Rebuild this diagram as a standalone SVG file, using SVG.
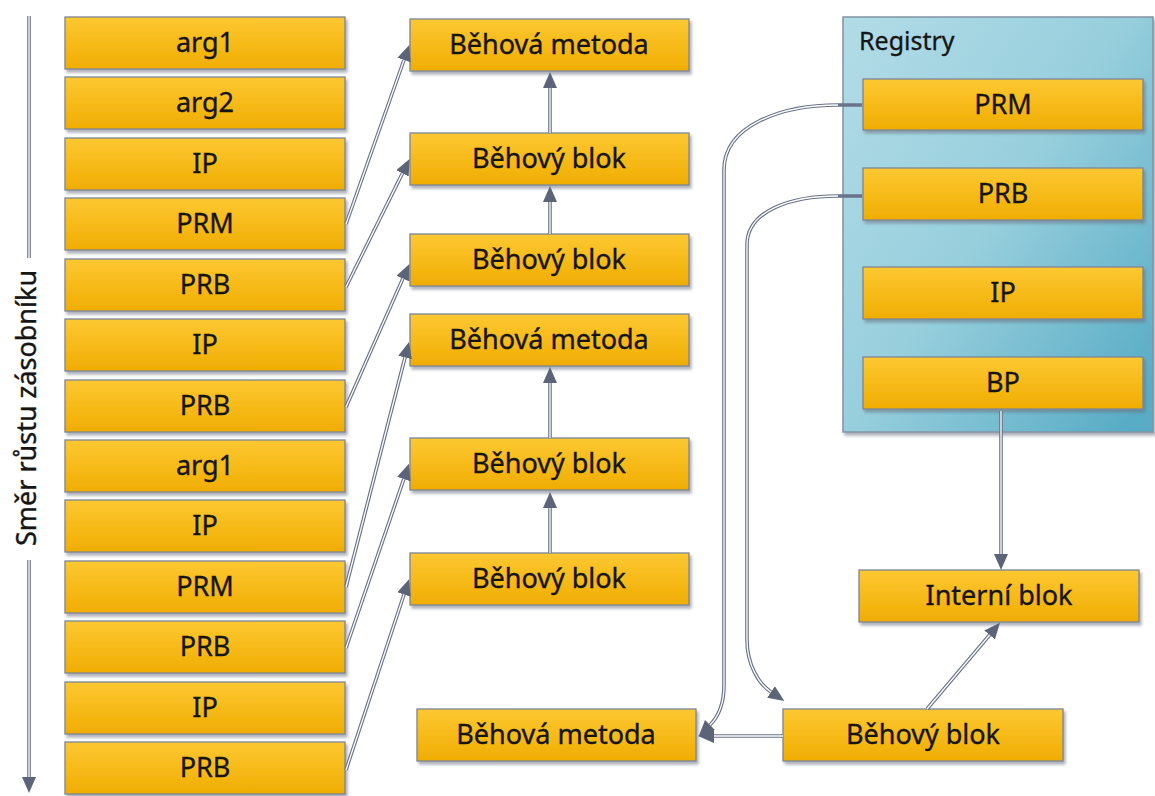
<svg xmlns="http://www.w3.org/2000/svg" width="1155" height="796" viewBox="0 0 1155 796">
  <defs>
    <linearGradient id="boxFill" x1="0" y1="0" x2="0" y2="1">
      <stop offset="0" stop-color="#fdc832"/>
      <stop offset="1" stop-color="#f0ad02"/>
    </linearGradient>
    <linearGradient id="regFill" x1="0" y1="0" x2="1" y2="0.9">
      <stop offset="0" stop-color="#b2dce7"/>
      <stop offset="0.5" stop-color="#98cfdd"/>
      <stop offset="1" stop-color="#58acc5"/>
    </linearGradient>
    <filter id="shadow" x="-10%" y="-20%" width="130%" height="150%">
      <feDropShadow dx="2" dy="3" stdDeviation="1.5" flood-color="#6a7080" flood-opacity="0.55"/>
    </filter>
    <marker id="arrow" markerUnits="userSpaceOnUse" markerWidth="18" markerHeight="15" refX="0" refY="7" orient="auto">
      <path d="M0,0 L16,7 L0,14 Z" fill="#5b6479"/>
    </marker>
  </defs>
  <style>
    .box { fill: url(#boxFill); stroke: #7d8696; stroke-width: 1.3; filter: url(#shadow); }
    .lbl { font-family: "Noto Sans", "Open Sans", sans-serif; font-size: 27px; fill: #151515; stroke: #151515; stroke-width: 0.35; text-anchor: middle; }
    .edge { fill: none; stroke: #68728a; stroke-width: 3.6; }
    .core { fill: none; stroke: #ffffff; stroke-width: 1.3; }
  </style>

  <rect width="1155" height="796" fill="#ffffff"/>

  <!-- Registers container -->
  <g id="registry">
    <rect x="843" y="17" width="310" height="415" fill="url(#regFill)" stroke="#8393a3" stroke-width="1.5" filter="url(#shadow)"/>
    <text x="859" y="50" font-family="Noto Sans, sans-serif" font-size="25" fill="#151515" stroke="#151515" stroke-width="0.3">Registry</text>
  </g>

  <!-- Stack growth direction -->
  <g id="direction">
    <path class="edge" d="M29,16 L29,258 M29,560 L29,777" marker-end="url(#arrow)"/>
    <path class="core" d="M29,16 L29,258 M29,560 L29,777"/>
    <text class="lbl" transform="translate(36,408) rotate(-90)" x="0" y="0" font-size="28">Směr růstu zásobníku</text>
  </g>

  <!-- Stack frames -->
  <g id="stack-arg1-a"><rect class="box" x="65" y="17" width="280" height="52"/><text class="lbl" x="205" y="52">arg1</text></g>
  <g id="stack-arg2"><rect class="box" x="65" y="77" width="280" height="52"/><text class="lbl" x="205" y="112">arg2</text></g>
  <g id="stack-ip-a"><rect class="box" x="65" y="138" width="280" height="52"/><text class="lbl" x="205" y="173">IP</text></g>
  <g id="stack-prm-a"><rect class="box" x="65" y="198" width="280" height="52"/><text class="lbl" x="205" y="233">PRM</text></g>
  <g id="stack-prb-a"><rect class="box" x="65" y="259" width="280" height="52"/><text class="lbl" x="205" y="294">PRB</text></g>
  <g id="stack-ip-b"><rect class="box" x="65" y="319" width="280" height="52"/><text class="lbl" x="205" y="354">IP</text></g>
  <g id="stack-prb-b"><rect class="box" x="65" y="380" width="280" height="52"/><text class="lbl" x="205" y="415">PRB</text></g>
  <g id="stack-arg1-b"><rect class="box" x="65" y="440" width="280" height="52"/><text class="lbl" x="205" y="475">arg1</text></g>
  <g id="stack-ip-c"><rect class="box" x="65" y="500" width="280" height="52"/><text class="lbl" x="205" y="535">IP</text></g>
  <g id="stack-prm-b"><rect class="box" x="65" y="561" width="280" height="52"/><text class="lbl" x="205" y="596">PRM</text></g>
  <g id="stack-prb-c"><rect class="box" x="65" y="621" width="280" height="52"/><text class="lbl" x="205" y="656">PRB</text></g>
  <g id="stack-ip-d"><rect class="box" x="65" y="682" width="280" height="52"/><text class="lbl" x="205" y="717">IP</text></g>
  <g id="stack-prb-d"><rect class="box" x="65" y="742" width="280" height="52"/><text class="lbl" x="205" y="777">PRB</text></g>

  <!-- Runtime chain -->
  <g id="method-1"><rect class="box" x="410" y="19" width="279" height="52"/><text class="lbl" x="549" y="54">Běhová metoda</text></g>
  <g id="block-1"><rect class="box" x="410" y="133" width="279" height="52"/><text class="lbl" x="549" y="168">Běhový blok</text></g>
  <g id="block-2"><rect class="box" x="410" y="234" width="279" height="52"/><text class="lbl" x="549" y="269">Běhový blok</text></g>
  <g id="method-2"><rect class="box" x="410" y="314" width="279" height="52"/><text class="lbl" x="549" y="349">Běhová metoda</text></g>
  <g id="block-3"><rect class="box" x="410" y="438" width="279" height="52"/><text class="lbl" x="549" y="473">Běhový blok</text></g>
  <g id="block-4"><rect class="box" x="410" y="553" width="279" height="52"/><text class="lbl" x="549" y="588">Běhový blok</text></g>
  <g id="method-3"><rect class="box" x="417" y="709" width="279" height="52"/><text class="lbl" x="556" y="744">Běhová metoda</text></g>
  <g id="block-5"><rect class="box" x="783" y="709" width="280" height="52"/><text class="lbl" x="923" y="744">Běhový blok</text></g>
  <g id="internal"><rect class="box" x="859" y="570" width="280" height="52"/><text class="lbl" x="999" y="605">Interní blok</text></g>

  <!-- Registers -->
  <g id="reg-prm"><rect class="box" x="863" y="79" width="280" height="51"/><text class="lbl" x="1003" y="114">PRM</text></g>
  <g id="reg-prb"><rect class="box" x="863" y="168" width="280" height="52"/><text class="lbl" x="1003" y="203">PRB</text></g>
  <g id="reg-ip"><rect class="box" x="863" y="267" width="280" height="52"/><text class="lbl" x="1003" y="302">IP</text></g>
  <g id="reg-bp"><rect class="box" x="863" y="357" width="280" height="52"/><text class="lbl" x="1003" y="392">BP</text></g>

  <!-- Connectors: dark outline with a light core, arrowheads on the outline -->
  <g id="connectors">
    <g id="c-outline">
      <path class="edge" d="M346,224 L404,60" marker-end="url(#arrow)"/>
      <path class="edge" d="M346,287 L402.4,173.4" marker-end="url(#arrow)"/>
      <path class="edge" d="M346,407 L402.9,278.6" marker-end="url(#arrow)"/>
      <path class="edge" d="M346,587 L405,357.5" marker-end="url(#arrow)"/>
      <path class="edge" d="M346,648 L403.8,479" marker-end="url(#arrow)"/>
      <path class="edge" d="M346,770 L404,594.5" marker-end="url(#arrow)"/>
      <path class="edge" d="M550,133 L550,88" marker-end="url(#arrow)"/>
      <path class="edge" d="M550,234 L550,202" marker-end="url(#arrow)"/>
      <path class="edge" d="M550,438 L550,383" marker-end="url(#arrow)"/>
      <path class="edge" d="M550,553 L550,508" marker-end="url(#arrow)"/>
      <path class="edge" d="M862,105 L838,105 C782,105 724,125 724,170 L724,685 C724,705 718,717 710,725" marker-end="url(#arrow)"/>
      <path class="edge" d="M862,196 L838,196 C792,196 747,210 747,245 L747,640 C747,665 759,684 771,692" marker-end="url(#arrow)"/>
      <path class="edge" d="M783,736 L714,736" marker-end="url(#arrow)"/>
      <path class="edge" d="M927,709 L989.6,635" marker-end="url(#arrow)"/>
      <path class="edge" d="M1001,411 L1001,554" marker-end="url(#arrow)"/>
    </g>
    <g id="c-core">
      <path class="core" d="M346,224 L404,60"/>
      <path class="core" d="M346,287 L402.4,173.4"/>
      <path class="core" d="M346,407 L402.9,278.6"/>
      <path class="core" d="M346,587 L405,357.5"/>
      <path class="core" d="M346,648 L403.8,479"/>
      <path class="core" d="M346,770 L404,594.5"/>
      <path class="core" d="M550,133 L550,88"/>
      <path class="core" d="M550,234 L550,202"/>
      <path class="core" d="M550,438 L550,383"/>
      <path class="core" d="M550,553 L550,508"/>
      <path class="core" d="M838,105 C782,105 724,125 724,170 L724,685 C724,705 718,717 710,725"/>
      <path class="core" d="M838,196 C792,196 747,210 747,245 L747,640 C747,665 759,684 771,692"/>
      <path class="core" d="M783,736 L714,736"/>
      <path class="core" d="M927,709 L989.6,635"/>
      <path class="core" d="M1001,411 L1001,554"/>
    </g>
  </g>
</svg>
